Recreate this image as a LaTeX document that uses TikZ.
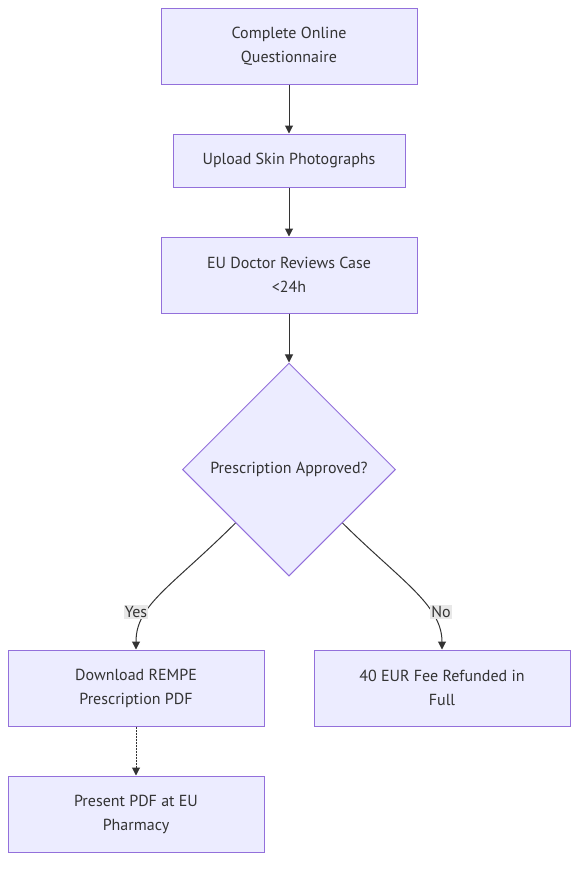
\documentclass[tikz,border=0pt]{standalone}
\usepackage{fontspec}
\setmainfont{PT Sans}
\usetikzlibrary{shapes.geometric,arrows.meta}
\definecolor{nodefill}{HTML}{ECECFF}
\definecolor{nodeline}{HTML}{9370DB}
\definecolor{edgecol}{HTML}{333333}
\definecolor{lblbg}{HTML}{E8E8E8}
\tikzset{
  box/.style={draw=nodeline, fill=nodefill, line width=1pt, align=center, text=edgecol, font=\fontsize{16}{24}\selectfont, inner sep=0pt},
  decision/.style={diamond, aspect=1, draw=nodeline, fill=nodefill, line width=1pt, text=edgecol, font=\fontsize{16}{24}\selectfont, inner sep=0pt, minimum width=213pt, minimum height=213pt},
  edge/.style={draw=edgecol, line width=1pt, -{Triangle[length=8pt,width=8pt]}},
  lbl/.style={fill=lblbg, text=edgecol, font=\fontsize{16}{20}\selectfont, inner sep=1pt}
}
\begin{document}
\begin{tikzpicture}[x=1pt,y=-1pt]
\useasboundingbox (0,0) rectangle (586,873);
\node[box, minimum width=256pt, minimum height=76pt] (a) at (289,46) {Complete Online\\Questionnaire};
\node[box, minimum width=232pt, minimum height=53pt] (b) at (289,160.5) {Upload Skin Photographs};
\node[box, minimum width=256pt, minimum height=76pt] (c) at (289,275) {EU Doctor Reviews Case\\<24h};
\node[decision] (d) at (289,469.5) {Prescription Approved?};
\node[box, minimum width=256pt, minimum height=76pt] (e) at (136,688) {Download REMPE\\Prescription PDF};
\node[box, minimum width=256pt, minimum height=76pt] (f) at (442,688) {40 EUR Fee Refunded in\\Full};
\node[box, minimum width=256pt, minimum height=76pt] (g) at (136,814) {Present PDF at EU\\Pharmacy};
\draw[edge] (a) -- (b);
\draw[edge] (b) -- (c);
\draw[edge] (c) -- (d);
\draw[edge] (d.south west) .. controls (170,588) and (136,605) .. (e.north);
\draw[edge] (d.south east) .. controls (400,580) and (442,605) .. (f.north);
\draw[edge, dash pattern=on 2pt off 1pt] (e) -- (g);
\node[lbl] (yes) at (136,612) {Yes};
\node[lbl] (no) at (441,612) {No};
\end{tikzpicture}
\end{document}
